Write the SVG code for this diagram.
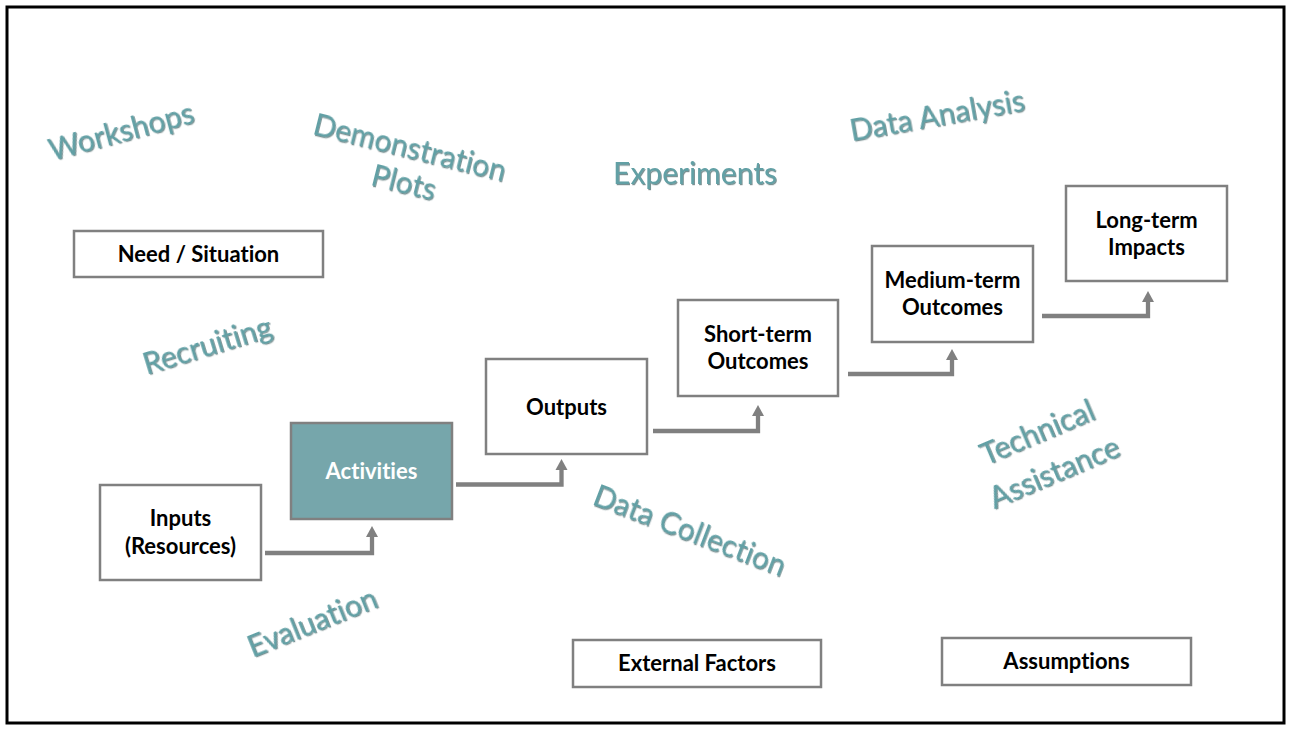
<svg xmlns="http://www.w3.org/2000/svg" width="1291" height="730" viewBox="0 0 1291 730">
<defs>
<style>
text{font-variant-ligatures:none;font-feature-settings:"liga" 0,"clig" 0}
.box{fill:#ffffff;stroke:#808080;stroke-width:2.5}
.act{fill:#76a6ab;stroke:#808080;stroke-width:2.5}
.lbl{font-family:Lato,"Liberation Sans",sans-serif;font-weight:bold;font-size:22px;fill:#000;text-anchor:middle}
.wl{font-family:Lato,"Liberation Sans",sans-serif;font-size:30px;fill:#62a0a5;text-anchor:middle;filter:url(#sh)}
.con{fill:none;stroke:#808080;stroke-width:4.3}
</style>
<filter id="sh" x="-10%" y="-30%" width="120%" height="160%">
<feDropShadow dx="1" dy="1.2" stdDeviation="0.7" flood-color="#2d5558" flood-opacity="0.65"/>
</filter>
<marker id="ah" markerUnits="userSpaceOnUse" markerWidth="13" markerHeight="14" viewBox="0 -7 13 14" refX="1" refY="0" orient="auto">
<path d="M0,-6 L11,0 L0,6 z" fill="#808080"/>
</marker>
</defs>
<rect x="0" y="0" width="1291" height="730" fill="#ffffff"/>
<rect x="7" y="7" width="1277" height="716" fill="none" stroke="#000" stroke-width="3"/>

<g id="connectors">
<path class="con" d="M265,553 H372 V536" marker-end="url(#ah)"/>
<path class="con" d="M456,484.5 H561.5 V469" marker-end="url(#ah)"/>
<path class="con" d="M653,431 H758 V415" marker-end="url(#ah)"/>
<path class="con" d="M848,374 H952 V359" marker-end="url(#ah)"/>
<path class="con" d="M1042,316 H1148 V301" marker-end="url(#ah)"/>
</g>

<g id="need">
<rect class="box" x="74" y="231" width="249" height="46"/>
<text class="lbl" x="198.5" y="262">Need / Situation</text>
</g>
<g id="inputs">
<rect class="box" x="100" y="485" width="161" height="95"/>
<text class="lbl" x="180.5" y="526">Inputs</text>
<text class="lbl" x="180.5" y="554">(Resources)</text>
</g>
<g id="activities">
<rect class="act" x="291" y="423" width="161" height="96"/>
<text class="lbl" x="371.5" y="479" style="fill:#ffffff">Activities</text>
</g>
<g id="outputs">
<rect class="box" x="486" y="359" width="161" height="95"/>
<text class="lbl" x="566.5" y="415">Outputs</text>
</g>
<g id="shortterm">
<rect class="box" x="678" y="300" width="160" height="96"/>
<text class="lbl" x="758" y="342">Short-term</text>
<text class="lbl" x="758" y="369">Outcomes</text>
</g>
<g id="mediumterm">
<rect class="box" x="872" y="246" width="161" height="96"/>
<text class="lbl" x="952.5" y="288">Medium-term</text>
<text class="lbl" x="952.5" y="315">Outcomes</text>
</g>
<g id="longterm">
<rect class="box" x="1066" y="186" width="161" height="95"/>
<text class="lbl" x="1146.5" y="228">Long-term</text>
<text class="lbl" x="1146.5" y="255">Impacts</text>
</g>
<g id="external">
<rect class="box" x="573" y="640" width="248" height="47"/>
<text class="lbl" x="697" y="671">External Factors</text>
</g>
<g id="assumptions">
<rect class="box" x="942" y="638" width="249" height="47"/>
<text class="lbl" x="1066.5" y="669">Assumptions</text>
</g>

<g id="wordart">
<text class="wl" transform="translate(121,131) rotate(-15)" y="11">Workshops</text>
<text class="wl" transform="translate(410,147) rotate(14)" y="11">Demonstration</text>
<text class="wl" transform="translate(404,182) rotate(14)" y="11">Plots</text>
<text class="wl" x="695" y="184">Experiments</text>
<text class="wl" transform="translate(937,115) rotate(-10)" y="11">Data Analysis</text>
<text class="wl" transform="translate(207,345) rotate(-17)" y="11">Recruiting</text>
<text class="wl" transform="translate(312,622) rotate(-22)" y="11">Evaluation</text>
<text class="wl" transform="translate(690,530) rotate(21)" y="11">Data Collection</text>
<text class="wl" transform="translate(1037,432) rotate(-23)" y="11">Technical</text>
<text class="wl" transform="translate(1054,472) rotate(-23)" y="11">Assistance</text>
</g>
</svg>
